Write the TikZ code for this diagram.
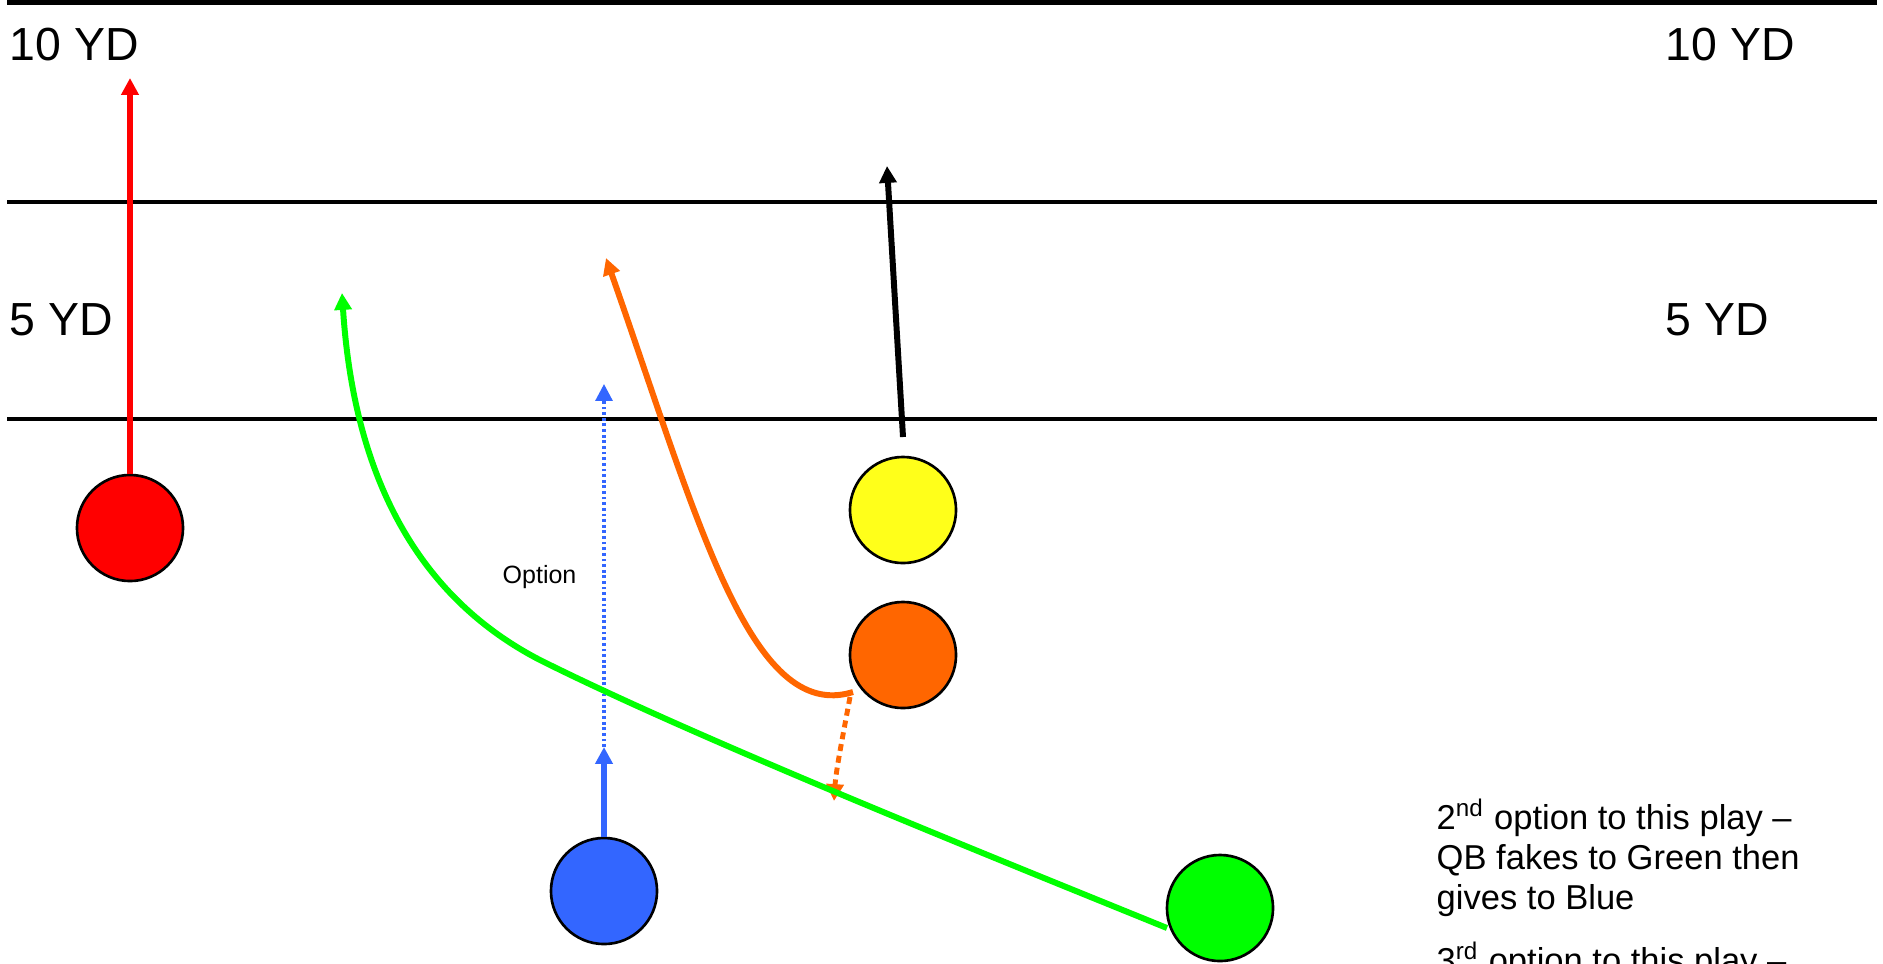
\documentclass[tikz,border=0pt]{standalone}
\usepackage{fontspec}
\setmainfont{Liberation Sans}
\usetikzlibrary{arrows.meta,calc}
\definecolor{pred}{HTML}{FF0000}
\definecolor{pyellow}{HTML}{FFFF1A}
\definecolor{porange}{HTML}{FF6600}
\definecolor{pblue}{HTML}{3366FF}
\definecolor{pgreen}{HTML}{00FF00}
\begin{document}
\begin{tikzpicture}[x=0.01cm,y=-0.01cm,
  player/.style={circle,draw=black,line width=0.75pt,minimum size=1.06cm,inner sep=0pt},
  yardline/.style={line width=1.2pt,draw=black},
  route/.style={line width=1.7pt,-{Triangle[length=4.8pt,width=4.8pt]}},
  biglbl/.style={inner sep=0pt,anchor=base west,font=\fontsize{13.2}{15}\selectfont},
  smalllbl/.style={inner sep=0pt,anchor=base west,font=\fontsize{7.11}{8.5}\selectfont},
  notelbl/.style={inner sep=0pt,anchor=base west,font=\fontsize{9.82}{11.38}\selectfont}]
\useasboundingbox (0,0) rectangle (1883,963);
\clip (0,0) rectangle (1883,963);

% yard lines
\coordinate (l10a) at (7,2.5);   \coordinate (l10b) at (1877,2.5);
\coordinate (l5a) at (7,202);    \coordinate (l5b) at (1877,202);
\coordinate (l0a) at (7,419);    \coordinate (l0b) at (1877,419);
\draw[yardline] (l10a) -- (l10b);
\draw[yardline] (l5a) -- (l5b);
\draw[yardline] (l0a) -- (l0b);

% labels
\node[biglbl] (t10l) at (9,60) {10 YD};
\node[biglbl] (t10r) at (1665,60) {10 YD};
\node[biglbl] (t5l) at (9,335) {5 YD};
\node[biglbl] (t5r) at (1665,335) {5 YD};
\node[smalllbl] (opt) at (502,583) {Option};
\node[notelbl] (note2a) at (1436,829) {2\textsuperscript{nd} option to this play --};
\node[notelbl] (note2b) at (1436,869) {QB fakes to Green then};
\node[notelbl] (note2c) at (1436,909) {gives to Blue};
\node[notelbl] (note3) at (1436,972) {3\textsuperscript{rd} option to this play --};

% players
\node[player,fill=pred] (r) at (130,528) {};
\node[player,fill=pyellow] (y) at (903,510) {};
\node[player,fill=porange] (o) at (903,655) {};
\node[player,fill=pblue] (b) at (604,891) {};
\node[player,fill=pgreen] (g) at (1220,908) {};

% route end points
\coordinate (rtip) at (130,78);
\coordinate (ystart) at (903,437);
\coordinate (ytip) at (887,166);
\coordinate (ostart) at (853,692);
\coordinate (otip) at (606,258);
\coordinate (odstart) at (850,697);
\coordinate (odtip) at (834,801);
\coordinate (bmid) at (604,747);
\coordinate (btip) at (604,384);
\coordinate (gstart) at (1167,928);
\coordinate (gmid) at (540,660);
\coordinate (gtip) at (342,293);

% routes
\draw[route,draw=pred] (r.north) -- (rtip);
\draw[route,draw=black] (ystart) -- (ytip);
\draw[route,draw=porange] (ostart) .. controls (750,724) and (697,517) .. (otip);
\draw[route,draw=porange,line width=1.4pt,dash pattern=on 2pt off 1.4pt]
  (odstart) .. controls (843,735) and (836,770) .. (odtip);
\draw[route,draw=pblue] (b.north) -- (bmid);
\draw[route,draw=pblue,line width=0.9pt,dash pattern=on 0.8pt off 0.8pt] (bmid) -- (btip);
\draw[route,draw=pgreen] (gstart) .. controls (1000,860) and (700,740) .. (gmid)
  .. controls (420,598) and (354,480) .. (gtip);
\end{tikzpicture}
\end{document}
